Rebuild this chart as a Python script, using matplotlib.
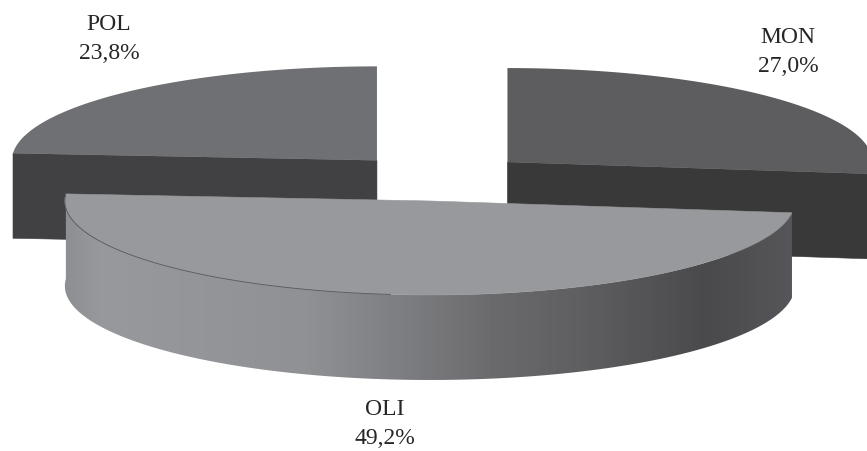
import numpy as np
import matplotlib; matplotlib.use("Agg"); import matplotlib.pyplot as plt
from matplotlib.colors import LinearSegmentedColormap
from matplotlib.patches import Polygon

labels=["MON","OLI","POL"]
values=[27.0,49.2,23.8]
decimal_labels=["27,0%","49,2%","23,8%"]

# pie geometry, in pixels
CX,CY=439,178.6; A,B=365,94; DEPTH=85; EXPLODE=.25
TOP={"MON":"#5d5d5f","OLI":"#98999c","POL":"#6f7073"}
SIDE={"MON":"#39393a","POL":"#414143"}
LABEL_POS={"MON":(788,52),"OLI":(385,424),"POL":(109,39)}

fig=plt.figure(figsize=(8.67,4.52),dpi=100)
ax=fig.add_axes([0,0,1,1]); ax.set_xlim(0,867); ax.set_ylim(452,0); ax.axis("off")

def pt(cx,cy,deg):
    # angles run clockwise from 12 o'clock, like the values around the pie
    r=np.radians(deg)
    return cx+A*np.sin(r),cy-B*np.cos(r)

edges=np.cumsum([0]+values)/sum(values)*360
slices={}
for name,a0,a1 in zip(labels,edges[:-1],edges[1:]):
    mid=(a0+a1)/2
    cx,cy=pt(CX,CY,mid)
    # pt gives a full radius step, scale it down to the explode distance
    cx,cy=CX+(cx-CX)*EXPLODE,CY+(cy-CY)*EXPLODE
    t=np.linspace(a0,a1,200)
    slices[name]=(cx,cy,a0,a1,*pt(cx,cy,t))

# back slices: only the straight cut face shows below the top
for name in ["POL","MON"]:
    cx,cy,a0,a1,xs,ys=slices[name]
    far=a1 if name=="MON" else a0
    ex,ey=pt(cx,cy,far)
    ax.add_patch(Polygon([(cx,cy),(ex,ey),(ex,ey+DEPTH),(cx,cy+DEPTH)],fc=SIDE[name],ec=SIDE[name],lw=.4,zorder=1))
    ax.add_patch(Polygon(np.r_[[[cx,cy]],np.c_[xs,ys]],fc=TOP[name],ec="none",zorder=2))

# front slice: curved wall with a left to right shade, then the top face
cx,cy,a0,a1,xs,ys=slices["OLI"]
wall=Polygon(np.r_[np.c_[xs,ys],np.c_[xs,ys+DEPTH][::-1]],fc="none",ec="none",zorder=3)
ax.add_patch(wall)
shade=LinearSegmentedColormap.from_list("wall",[(0,"#8e8f92"),(.05,"#98999c"),(.33,"#909194"),
    (.47,"#7c7d80"),(.6,"#69696c"),(.72,"#5e5e61"),(.88,"#4a4a4d"),(1,"#56565a")])
im=ax.imshow(np.linspace(0,1,400)[None,:],cmap=shade,aspect="auto",zorder=3,
             extent=(xs.min()-1,xs.max()+1,ys.max()+DEPTH+1,ys.min()-1))
im.set_clip_path(wall)
ax.set_xlim(0,867); ax.set_ylim(452,0)
ax.add_patch(Polygon(np.r_[[[cx,cy]],np.c_[xs,ys]],fc=TOP["OLI"],ec=TOP["OLI"],lw=.4,zorder=4))
# thin rim line on the lit side of the arc only
ax.plot(xs[100:],ys[100:],color="#55565a",lw=.6,zorder=5)

for name,val in zip(labels,decimal_labels):
    x,y=LABEL_POS[name]
    ax.text(x,y,f"{name}\n{val}",ha="center",va="center",fontsize=17,color="#262626",linespacing=1.5,
            family=["Liberation Serif","DejaVu Serif"])

fig.savefig("out.png",dpi=100,facecolor="white")
